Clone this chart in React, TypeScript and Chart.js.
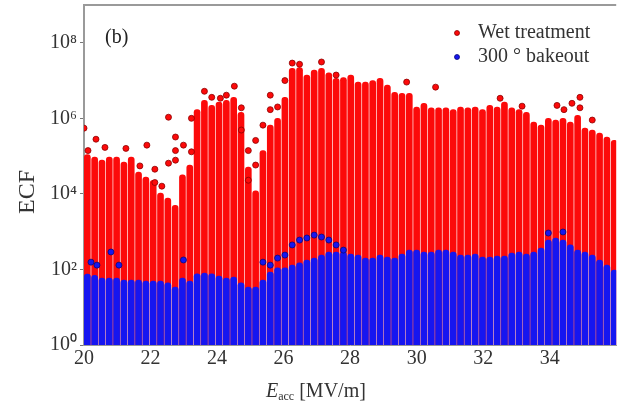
import React, { useEffect, useRef } from "react";
import { Chart, registerables } from "chart.js";

Chart.register(...registerables);

// E_acc positions of the measurement columns [MV/m]
const columnX = [
  20.1, 20.32, 20.54, 20.76, 20.98, 21.2, 21.42, 21.64, 21.86, 22.08,
  22.3, 22.52, 22.74, 22.96, 23.18, 23.4, 23.62, 23.84, 24.06, 24.28,
  24.5, 24.72, 24.94, 25.16, 25.38, 25.6, 25.82, 26.04, 26.26, 26.48,
  26.7, 26.92, 27.14, 27.36, 27.58, 27.8, 28.02, 28.24, 28.46, 28.68,
  28.9, 29.12, 29.34, 29.56, 29.78, 30.0, 30.22, 30.44, 30.66, 30.88,
  31.1, 31.32, 31.54, 31.76, 31.98, 32.2, 32.42, 32.64, 32.86, 33.08,
  33.3, 33.52, 33.74, 33.96, 34.18, 34.4, 34.62, 34.84, 35.06, 35.28,
  35.5, 35.72, 35.94,
];

// Wet treatment: top of each dense column of ECF points
const wetTop = [
  1.1e5, 9.4e4, 7.8e4, 9.4e4, 9.4e4, 6.9e4, 9.4e4, 3.8e4, 2.8e4, 2.3e4,
  1.05e4, 7.7e3, 5.0e3, 3.2e4, 5.8e4, 1.7e6, 3.0e6, 2.2e6, 2.7e6, 3.0e6,
  3.6e6, 1.45e6, 5.1e4, 1.2e4, 1.4e5, 6.6e5, 1.0e6, 3.6e6, 2.1e7, 2.2e7,
  1.4e7, 1.9e7, 2.1e7, 1.6e7, 1.15e7, 1.2e7, 1.4e7, 9.1e6, 9.1e6, 1.0e7,
  1.15e7, 7.6e6, 4.9e6, 4.6e6, 4.6e6, 2.0e6, 2.5e6, 1.9e6, 1.9e6, 1.9e6,
  1.7e6, 2.0e6, 1.9e6, 2.0e6, 1.7e6, 2.2e6, 2.0e6, 2.7e6, 1.9e6, 1.7e6,
  1.45e6, 7.9e5, 6.6e5, 1.0e6, 9.0e5, 1.0e6, 7.9e5, 1.2e6, 5.5e5, 4.9e5,
  4.1e5, 3.2e5, 2.6e5,
];

// 300 ° bakeout: top of each dense column of ECF points
const bakeTop = [
  75, 70, 59, 59, 59, 52, 52, 52, 49, 49,
  49, 44, 34, 59, 49, 76, 80, 76, 67, 59,
  63, 44, 34, 34, 52, 85, 110, 110, 130, 150,
  178, 200, 240, 290, 290, 290, 255, 240, 200, 200,
  240, 213, 200, 255, 325, 325, 290, 290, 325, 325,
  290, 240, 240, 255, 213, 213, 225, 225, 270, 290,
  255, 290, 370, 600, 680, 600, 445, 325, 290, 240,
  178, 130, 96,
];

// isolated wet-treatment points above the dense columns
const wetDotX = [
  20.0, 20.12, 20.36, 20.63, 21.26, 21.68, 21.89, 22.13, 22.13, 22.34,
  22.54, 22.54, 22.75, 22.75, 22.75, 22.99, 23.23, 23.23, 23.62, 23.84,
  24.1, 24.28, 24.52, 24.73, 24.73, 24.94, 24.94, 25.16, 25.16, 25.38,
  25.6, 25.6, 25.82, 26.04, 26.26, 26.48, 27.14, 27.58, 29.7, 30.57,
  32.51, 33.17, 34.22, 34.43, 34.67, 34.91, 34.91, 35.28,
];
const wetDotY = [
  5.5e5, 1.4e5, 2.8e5, 1.7e5, 1.6e5, 5.5e4, 1.95e5, 4.5e4, 2.0e4, 1.6e4,
  6.5e4, 1.07e6, 3.2e5, 1.4e5, 7.8e4, 1.95e5, 1.0e6, 1.3e5, 5.2e6, 3.6e6,
  3.4e6, 4.1e6, 7.1e6, 1.9e6, 4.9e5, 1.4e5, 2.3e4, 5.8e4, 2.6e5, 6.6e5,
  4.1e6, 1.7e6, 2.0e6, 1.0e7, 2.9e7, 2.7e7, 3.1e7, 1.4e7, 9.1e6, 6.7e6,
  3.4e6, 2.1e6, 2.2e6, 1.7e6, 2.5e6, 3.6e6, 1.9e6, 9.0e5,
];

// isolated bakeout points above the dense columns
const bakeDotX = [
  20.21, 20.39, 20.81, 21.05, 22.99, 25.38, 25.6, 25.82, 26.04, 26.26,
  26.48, 26.7, 26.92, 27.14, 27.36, 27.58, 27.8, 33.96, 34.4,
];
const bakeDotY = [
  156, 130, 290, 130, 178, 156, 130, 200, 240, 445,
  600, 680, 810, 720, 600, 445, 325, 920, 980,
];

const xTickValues = [20, 22, 24, 26, 28, 30, 32, 34];
const yTickValues = [1, 1e2, 1e4, 1e6, 1e8];
const yTickLabels = ["10\u2070", "10\u00b2", "10\u2074", "10\u2076", "10\u2078"];

const seriesNames = ["Wet treatment", "300 \u00b0 bakeout"];
const panelLabel = "(b)";
const yTitle = "ECF";
const xTitleMain = "E";
const xTitleSub = "acc";
const xTitleUnit = " [MV/m]";

const SERIF = '"Liberation Serif", "Times New Roman", serif';
const RED = "rgb(252,10,10)";
const RED_EDGE = "rgb(140,0,0)";
const BLUE = "rgb(22,22,240)";
const BLUE_EDGE = "rgb(10,10,120)";
const TEXT = "#333";

const decorPlugin = {
  id: "decor",
  afterDraw(chart: any) {
    const ctx = chart.ctx as CanvasRenderingContext2D;
    const a = chart.chartArea;
    ctx.save();
    // frame: top line
    ctx.strokeStyle = "#9a9a9a";
    ctx.lineWidth = 2;
    ctx.beginPath();
    ctx.moveTo(a.left, a.top);
    ctx.lineTo(a.right, a.top);
    ctx.stroke();

    // panel label
    ctx.fillStyle = "#222";
    ctx.font = `20px ${SERIF}`;
    ctx.textBaseline = "middle";
    ctx.textAlign = "left";
    ctx.fillText(panelLabel, a.left + 21, a.top + 33);

    // legend
    const lx = 457;
    const ly = [33, 57];
    const cols = [RED, BLUE];
    const edges = [RED_EDGE, BLUE_EDGE];
    ctx.font = `20px ${SERIF}`;
    for (let i = 0; i < 2; i++) {
      ctx.beginPath();
      ctx.arc(lx, ly[i], 2.5, 0, Math.PI * 2);
      ctx.fillStyle = cols[i];
      ctx.fill();
      ctx.lineWidth = 0.8;
      ctx.strokeStyle = edges[i];
      ctx.stroke();
      ctx.fillStyle = TEXT;
      ctx.fillText(seriesNames[i], 478, ly[i]);
    }

    // y title
    ctx.save();
    ctx.translate(28, 192);
    ctx.rotate(-Math.PI / 2);
    ctx.textAlign = "center";
    ctx.font = `24px ${SERIF}`;
    ctx.fillStyle = TEXT;
    ctx.fillText(yTitle, 0, 0);
    ctx.restore();

    // x title
    let x = 266;
    const y = 391;
    ctx.textAlign = "left";
    ctx.textBaseline = "alphabetic";
    ctx.fillStyle = TEXT;
    ctx.font = `italic 20px ${SERIF}`;
    ctx.fillText(xTitleMain, x, y + 6);
    x += ctx.measureText(xTitleMain).width;
    ctx.font = `12px ${SERIF}`;
    ctx.fillText(xTitleSub, x, y + 9);
    x += ctx.measureText(xTitleSub).width;
    ctx.font = `20px ${SERIF}`;
    ctx.fillText(xTitleUnit, x, y + 6);
    ctx.restore();
  },
};

export default function App() {
  const ref = useRef<HTMLCanvasElement | null>(null);

  useEffect(() => {
    document.body.style.margin = "0";
    const canvas = ref.current;
    if (!canvas) return;

    const wetBars = columnX.map((x, i) => ({ x, y: [1, wetTop[i]] }));
    const bakeBars = columnX.map((x, i) => ({ x, y: [1, bakeTop[i]] }));
    const wetDots = wetDotX.map((x, i) => ({ x, y: wetDotY[i] }));
    const bakeDots = bakeDotX.map((x, i) => ({ x, y: bakeDotY[i] }));

    const chart = new Chart(canvas, {
      type: "bar",
      data: {
        datasets: [
          {
            label: seriesNames[0],
            data: wetBars as any,
            backgroundColor: RED,
            borderWidth: 0,
            barThickness: 6,
            grouped: false,
            borderRadius: { topLeft: 3, topRight: 3, bottomLeft: 0, bottomRight: 0 },
            borderSkipped: false,
            order: 4,
          } as any,
          {
            type: "scatter",
            label: seriesNames[0] + " points",
            data: wetDots as any,
            backgroundColor: RED,
            borderColor: RED_EDGE,
            borderWidth: 0.8,
            pointRadius: 3,
            showLine: false,
            order: 3,
          } as any,
          {
            label: seriesNames[1],
            data: bakeBars as any,
            backgroundColor: BLUE,
            borderWidth: 0,
            barThickness: 6,
            grouped: false,
            borderRadius: { topLeft: 3, topRight: 3, bottomLeft: 0, bottomRight: 0 },
            borderSkipped: false,
            order: 2,
          } as any,
          {
            type: "scatter",
            label: seriesNames[1] + " points",
            data: bakeDots as any,
            backgroundColor: BLUE,
            borderColor: BLUE_EDGE,
            borderWidth: 0.8,
            pointRadius: 3,
            showLine: false,
            order: 1,
          } as any,
        ],
      },
      options: {
        animation: false,
        responsive: false,
        maintainAspectRatio: false,
        layout: { padding: { top: 5, right: 0, left: 0, bottom: 0 } },
        plugins: {
          legend: { display: false },
          tooltip: { enabled: false },
        },
        scales: {
          x: {
            type: "linear",
            min: 20,
            max: 36,
            offset: false,
            afterBuildTicks: (s: any) => {
              s.ticks = xTickValues.map((v) => ({ value: v }));
            },
            afterFit: (s: any) => {
              s.height = 69;
              s.paddingLeft = 0;
              s.paddingRight = 0;
            },
            ticks: {
              color: TEXT,
              font: { family: SERIF, size: 20 },
              padding: 2,
              maxRotation: 0,
              autoSkip: false,
            },
            grid: { display: false, drawTicks: false },
            border: { display: true, color: "#9a9a9a", width: 1 },
          },
          y: {
            type: "logarithmic",
            min: 1,
            max: 1e9,
            afterBuildTicks: (s: any) => {
              s.ticks = yTickValues.map((v) => ({ value: v }));
            },
            afterFit: (s: any) => {
              s.width = 84;
              s.paddingTop = 0;
              s.paddingBottom = 0;
            },
            ticks: {
              color: TEXT,
              font: { family: SERIF, size: 20 },
              padding: 3,
              autoSkip: false,
              callback: (v: any) => {
                const idx = yTickValues.indexOf(Number(v));
                return idx >= 0 ? yTickLabels[idx] : "";
              },
            },
            grid: {
              display: true,
              drawOnChartArea: false,
              tickLength: 4,
              color: "#777",
            },
            border: { display: true, color: "#9a9a9a", width: 2 },
          },
        },
      },
      plugins: [decorPlugin],
    });

    return () => chart.destroy();
  }, []);

  return (
    <div style={{ position: "relative", width: 621, height: 414 }}>
      <canvas ref={ref} width={621} height={414} style={{ width: 621, height: 414, display: "block" }} />
    </div>
  );
}
